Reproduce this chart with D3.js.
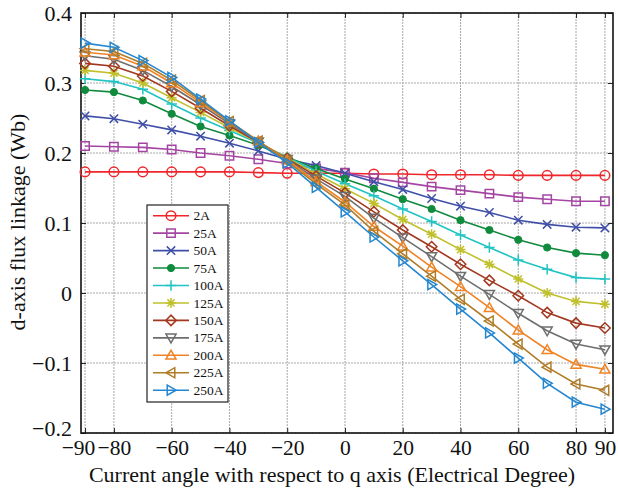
<!DOCTYPE html>
<html>
<head>
<meta charset="utf-8">
<script src="https://cdn.jsdelivr.net/npm/d3@7"></script>
<style>
  body { margin: 0; background: #fff; }
  svg { display: block; }
  text { font-family: "Liberation Serif", "Times New Roman", serif; fill: #111; }
</style>
</head>
<body>
<svg id="chart" width="618" height="495"></svg>
<script>
// Current angle (electrical degrees) at which each curve is sampled
const angles = [-90, -80, -70, -60, -50, -40, -30, -20, -10, 0, 10, 20, 30, 40, 50, 60, 70, 80, 90];

// d-axis flux linkage (Wb) for each phase-current amplitude
const flux2A   = [0.173, 0.173, 0.173, 0.173, 0.173, 0.173, 0.172, 0.171, 0.171, 0.171, 0.170, 0.170, 0.169, 0.169, 0.169, 0.168, 0.168, 0.168, 0.168];
const flux25A  = [0.210, 0.209, 0.208, 0.205, 0.200, 0.196, 0.191, 0.185, 0.178, 0.172, 0.164, 0.158, 0.152, 0.147, 0.142, 0.137, 0.134, 0.131, 0.131];
const flux50A  = [0.253, 0.249, 0.241, 0.233, 0.224, 0.214, 0.203, 0.191, 0.182, 0.171, 0.159, 0.148, 0.135, 0.124, 0.115, 0.104, 0.098, 0.094, 0.093];
const flux75A  = [0.290, 0.287, 0.275, 0.256, 0.238, 0.225, 0.211, 0.194, 0.178, 0.163, 0.149, 0.134, 0.120, 0.104, 0.090, 0.076, 0.065, 0.057, 0.054];
const flux100A = [0.306, 0.302, 0.291, 0.270, 0.250, 0.232, 0.214, 0.194, 0.174, 0.156, 0.139, 0.120, 0.102, 0.083, 0.065, 0.047, 0.034, 0.022, 0.020];
const flux125A = [0.318, 0.314, 0.300, 0.279, 0.258, 0.236, 0.215, 0.193, 0.170, 0.149, 0.128, 0.105, 0.084, 0.062, 0.041, 0.020, 0.000, -0.012, -0.016];
const flux150A = [0.328, 0.324, 0.310, 0.288, 0.264, 0.239, 0.215, 0.192, 0.167, 0.143, 0.116, 0.090, 0.066, 0.041, 0.018, -0.004, -0.028, -0.043, -0.050];
const flux175A = [0.339, 0.334, 0.318, 0.295, 0.269, 0.242, 0.216, 0.191, 0.163, 0.138, 0.107, 0.079, 0.052, 0.024, -0.002, -0.029, -0.054, -0.073, -0.081];
const flux200A = [0.344, 0.340, 0.324, 0.300, 0.272, 0.244, 0.217, 0.190, 0.159, 0.130, 0.095, 0.067, 0.037, 0.009, -0.021, -0.053, -0.081, -0.102, -0.109];
const flux225A = [0.349, 0.345, 0.328, 0.304, 0.275, 0.245, 0.217, 0.188, 0.156, 0.126, 0.088, 0.056, 0.024, -0.009, -0.040, -0.073, -0.106, -0.130, -0.139];
const flux250A = [0.357, 0.351, 0.332, 0.308, 0.277, 0.246, 0.215, 0.186, 0.151, 0.116, 0.080, 0.046, 0.012, -0.023, -0.057, -0.093, -0.129, -0.156, -0.166];

const seriesNames = ["2A", "25A", "50A", "75A", "100A", "125A", "150A", "175A", "200A", "225A", "250A"];
const seriesValues = [flux2A, flux25A, flux50A, flux75A, flux100A, flux125A, flux150A, flux175A, flux200A, flux225A, flux250A];
const seriesColors = ["#f0262b", "#a545a3", "#3f4fa8", "#108a3c", "#22c3c3", "#c0c02c", "#a2381f", "#6e6e6e", "#ef8326", "#b07c28", "#2587cf"];
const seriesMarkers = ["circle", "square", "x", "dot", "plus", "star", "diamond", "triDown", "triUp", "triLeft", "triRight"];

// Tick values and labels
const xTicks = [-90, -80, -60, -40, -20, 0, 20, 40, 60, 80, 90];
const yTicks = [0.4, 0.3, 0.2, 0.1, 0, -0.1, -0.2];

const svg = d3.select("#chart");
const plot = { left: 81, right: 613, top: 13, bottom: 433 };

const x = d3.scaleLinear().domain([-91.4, 92.8]).range([plot.left, plot.right]);
const y = d3.scaleLinear().domain([-0.2, 0.4]).range([plot.bottom, plot.top]);

const fmt = v => {
  const s = v === 0 ? "0" : (Math.abs(v) < 1 && !Number.isInteger(v) ? d3.format(".1f")(Math.abs(v)) : String(Math.abs(v)));
  return (v < 0 ? "\u2212" : "") + s;
};

// Grid
const grid = svg.append("g").attr("class", "grid");
grid.selectAll("line.gx").data(xTicks).join("line")
  .attr("x1", d => x(d)).attr("x2", d => x(d))
  .attr("y1", plot.top).attr("y2", plot.bottom)
  .attr("stroke", "#a8a8a8").attr("stroke-width", 1).attr("stroke-dasharray", "2,1");
grid.selectAll("line.gy").data(yTicks).join("line")
  .attr("x1", plot.left).attr("x2", plot.right)
  .attr("y1", d => y(d)).attr("y2", d => y(d))
  .attr("stroke", "#a8a8a8").attr("stroke-width", 1).attr("stroke-dasharray", "2,1");

// Axes with inward ticks on all four sides
const tickLen = 5;
const axB = svg.append("g").attr("transform", `translate(0,${plot.bottom})`)
  .call(d3.axisBottom(x).tickValues(xTicks).tickSizeInner(-tickLen).tickSizeOuter(0).tickFormat(fmt));
const axT = svg.append("g").attr("transform", `translate(0,${plot.top})`)
  .call(d3.axisTop(x).tickValues(xTicks).tickSizeInner(-tickLen).tickSizeOuter(0).tickFormat(""));
const axL = svg.append("g").attr("transform", `translate(${plot.left},0)`)
  .call(d3.axisLeft(y).tickValues(yTicks).tickSizeInner(-tickLen).tickSizeOuter(0).tickFormat(fmt));
const axR = svg.append("g").attr("transform", `translate(${plot.right},0)`)
  .call(d3.axisRight(y).tickValues(yTicks).tickSizeInner(-tickLen).tickSizeOuter(0).tickFormat(""));

[axB, axT, axL, axR].forEach(a => {
  a.select(".domain").remove();
  a.selectAll(".tick line").attr("stroke", "#222").attr("stroke-width", 1);
});
axB.selectAll(".tick text").attr("font-size", 21.5).attr("dy", "0.71em").attr("y", 7)
  .attr("font-family", "Liberation Serif, serif").attr("fill", "#111")
  .attr("dx", d => d === -90 ? -7 : 0);
axL.selectAll(".tick text").attr("font-size", 22).attr("x", -9)
  .attr("font-family", "Liberation Serif, serif").attr("fill", "#111")
  .attr("dy", d => d === -0.2 ? "0.1em" : "0.32em");

// Frame
svg.append("rect")
  .attr("x", plot.left).attr("y", plot.top)
  .attr("width", plot.right - plot.left).attr("height", plot.bottom - plot.top)
  .attr("fill", "none").attr("stroke", "#111").attr("stroke-width", 1.6);

// Marker shapes
function markerPath(type, r) {
  switch (type) {
    case "square": return `M${-r},${-r}H${r}V${r}H${-r}Z`;
    case "x": return `M${-r},${-r}L${r},${r}M${-r},${r}L${r},${-r}`;
    case "plus": return `M${-r*1.25},0H${r*1.25}M0,${-r*1.25}V${r*1.25}`;
    case "star": {
      const d = r * 0.85;
      return `M${-r*1.2},0H${r*1.2}M0,${-r*1.2}V${r*1.2}M${-d},${-d}L${d},${d}M${-d},${d}L${d},${-d}`;
    }
    case "diamond": { const q = r * 1.25; return `M0,${-q}L${q},0L0,${q}L${-q},0Z`; }
    case "triDown": { const q = r * 1.2; return `M${-q},${-q*0.75}H${q}L0,${q}Z`; }
    case "triUp": { const q = r * 1.2; return `M${-q},${q*0.75}H${q}L0,${-q}Z`; }
    case "triLeft": { const q = r * 1.2; return `M${q*0.75},${-q}V${q}L${-q},0Z`; }
    case "triRight": { const q = r * 1.2; return `M${-q*0.75},${-q}V${q}L${q},0Z`; }
    default: return null;
  }
}

function drawMarker(g, type, color, cx, cy) {
  const r = 4.2;
  if (type === "circle") {
    g.append("circle").attr("cx", cx).attr("cy", cy).attr("r", r + 0.6)
      .attr("fill", "none").attr("stroke", color).attr("stroke-width", 1.5);
  } else if (type === "dot") {
    g.append("circle").attr("cx", cx).attr("cy", cy).attr("r", 3.6)
      .attr("fill", color).attr("stroke", color).attr("stroke-width", 1);
  } else {
    g.append("path").attr("d", markerPath(type, r))
      .attr("transform", `translate(${cx},${cy})`)
      .attr("fill", "none").attr("stroke", color).attr("stroke-width", 1.5)
      .attr("stroke-linejoin", "miter");
  }
}

// Curves
const line = d3.line().x(d => x(d[0])).y(d => y(d[1]));
const curves = svg.append("g");
seriesValues.forEach((vals, i) => {
  const pts = angles.map((a, j) => [a, vals[j]]);
  const g = curves.append("g");
  g.append("path").datum(pts).attr("d", line)
    .attr("fill", "none").attr("stroke", seriesColors[i]).attr("stroke-width", 1.6);
  pts.forEach(p => drawMarker(g, seriesMarkers[i], seriesColors[i], x(p[0]), y(p[1])));
});

// Legend
const lg = svg.append("g");
const lgBox = { x: 147, y: 205, w: 81, h: 197 };
lg.append("rect").attr("x", lgBox.x).attr("y", lgBox.y).attr("width", lgBox.w).attr("height", lgBox.h)
  .attr("fill", "#fff").attr("stroke", "#222").attr("stroke-width", 1.2);
seriesNames.forEach((name, i) => {
  const cy = 215.7 + i * 17.45;
  lg.append("line").attr("x1", 153).attr("x2", 189).attr("y1", cy).attr("y2", cy)
    .attr("stroke", seriesColors[i]).attr("stroke-width", 1.6);
  drawMarker(lg, seriesMarkers[i], seriesColors[i], 171, cy);
  lg.append("text").attr("x", 193.5).attr("y", cy + 4.6).attr("font-size", 13.5).text(name);
});

// Axis titles
svg.append("text")
  .attr("x", 332).attr("y", 482).attr("text-anchor", "middle").attr("font-size", 22)
  .text("Current angle with respect to q axis (Electrical Degree)");
svg.append("text")
  .attr("transform", "translate(25,222) rotate(-90)")
  .attr("text-anchor", "middle").attr("font-size", 22)
  .text("d-axis flux linkage (Wb)");
</script>
</body>
</html>
